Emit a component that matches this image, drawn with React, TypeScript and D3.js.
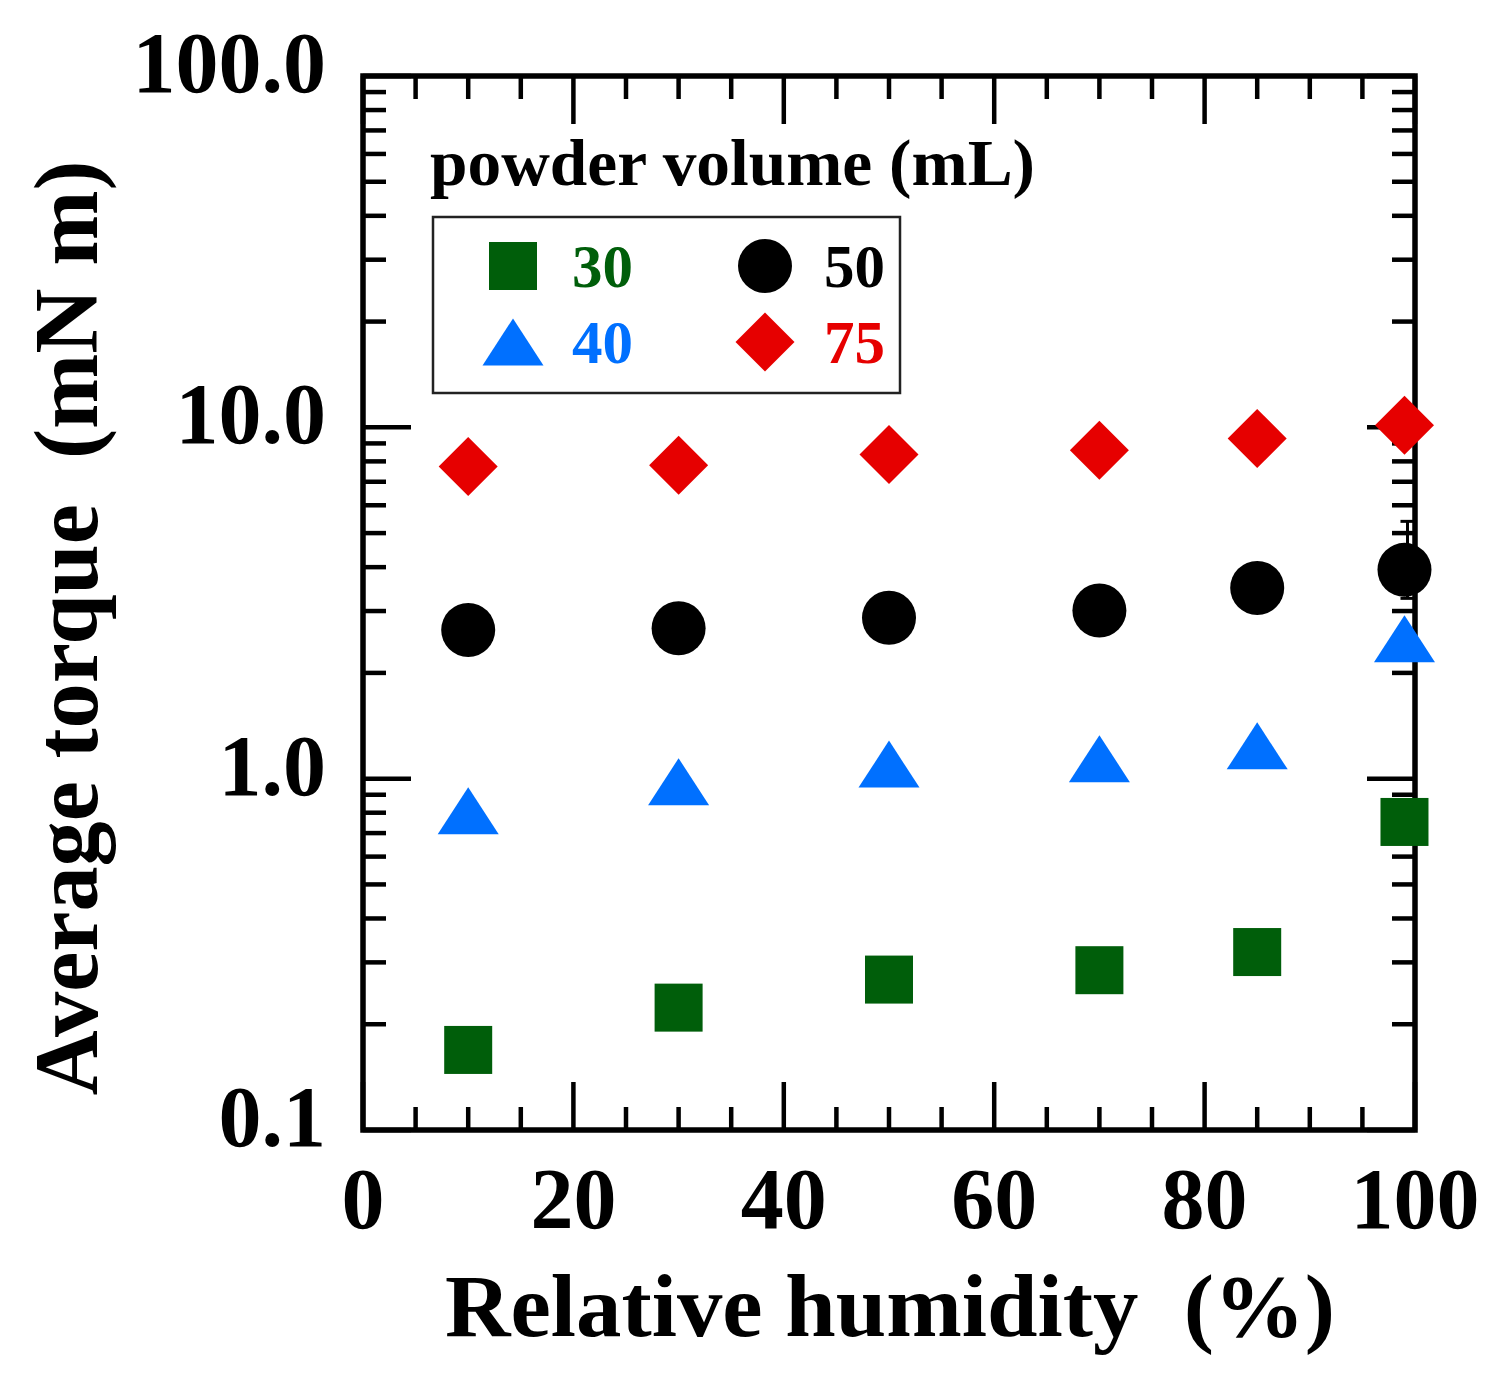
import React from "react";
import * as d3 from "d3";

const humidity = [10, 30, 50, 70, 85, 99];
const torque30 = [0.169, 0.223, 0.268, 0.285, 0.321, 0.753];
const torque40 = [0.81, 0.98, 1.1, 1.14, 1.24, 2.5];
const torque50 = [2.65, 2.68, 2.87, 3.01, 3.49, 3.93];
const torque75 = [7.74, 7.8, 8.37, 8.6, 9.29, 10.13];
// error bars [low, high] for the 50 mL series (null = none)
const err50: ([number, number] | null)[] = [null, null, null, null, null, [3.26, 5.4]];

const xTickLabels = ["0", "20", "40", "60", "80", "100"];
const yTickLabels = ["0.1", "1.0", "10.0", "100.0"];
const legendTitle = "powder volume (mL)";
const seriesNames = ["30", "40", "50", "75"];

const W = 1511;
const H = 1391;
const L = 363, R = 1415, T = 76, B = 1130;
const FONT = "'Liberation Serif', 'Times New Roman', serif";

const GREEN = "#005E0A";
const BLUE = "#0070FF";
const RED = "#E60000";
const BLACK = "#000000";

type Shape = "square" | "triangle" | "circle" | "diamond";

function Marker({ shape, cx, cy, color }: { shape: Shape; cx: number; cy: number; color: string }) {
  if (shape === "square") {
    const s = 48;
    return <rect x={cx - s / 2} y={cy - s / 2} width={s} height={s} fill={color} />;
  }
  if (shape === "circle") {
    return <circle cx={cx} cy={cy} r={27} fill={color} />;
  }
  if (shape === "triangle") {
    const w = 61, h = 47;
    return (
      <polygon
        points={`${cx},${cy - h / 2} ${cx + w / 2},${cy + h / 2} ${cx - w / 2},${cy + h / 2}`}
        fill={color}
      />
    );
  }
  const d = 29.5;
  return (
    <polygon points={`${cx},${cy - d} ${cx + d},${cy} ${cx},${cy + d} ${cx - d},${cy}`} fill={color} />
  );
}

export default function App() {
  const x = d3.scaleLinear().domain([0, 100]).range([L, R]);
  const y = d3.scaleLog().domain([0.1, 100]).range([B, T]);

  const xMajor = d3.range(0, 101, 20);
  const xMinor = d3.range(0, 101, 5).filter((v) => v % 20 !== 0);
  const yAll = y.ticks();
  const isMajor = (v: number) => Math.abs(Math.log10(v) - Math.round(Math.log10(v))) < 1e-6;
  const yMajor = yAll.filter(isMajor);
  const yMinor = yAll.filter((v) => !isMajor(v));

  const majLen = 48;
  const minLen = 23;
  const tickW = 4.5;

  const series: { vals: number[]; shape: Shape; color: string }[] = [
    { vals: torque30, shape: "square", color: GREEN },
    { vals: torque40, shape: "triangle", color: BLUE },
    { vals: torque50, shape: "circle", color: BLACK },
    { vals: torque75, shape: "diamond", color: RED },
  ];

  const legendItems: { shape: Shape; color: string; label: string; lx: number; ly: number }[] = [
    { shape: "square", color: GREEN, label: seriesNames[0], lx: 513, ly: 266 },
    { shape: "triangle", color: BLUE, label: seriesNames[1], lx: 513, ly: 342 },
    { shape: "circle", color: BLACK, label: seriesNames[2], lx: 765, ly: 266 },
    { shape: "diamond", color: RED, label: seriesNames[3], lx: 765, ly: 342 },
  ];

  return (
    <svg
      width={W}
      height={H}
      viewBox={`0 0 ${W} ${H}`}
      style={{ position: "absolute", left: 0, top: 0, background: "#fff" }}
      fontFamily={FONT}
    >
      <rect x={0} y={0} width={W} height={H} fill="#fff" />

      {/* ticks */}
      <g stroke="#000" strokeWidth={tickW}>
        {xMajor.map((v) => (
          <g key={"xM" + v}>
            <line x1={x(v)} x2={x(v)} y1={B} y2={B - majLen} />
            <line x1={x(v)} x2={x(v)} y1={T} y2={T + majLen} />
          </g>
        ))}
        {xMinor.map((v) => (
          <g key={"xm" + v}>
            <line x1={x(v)} x2={x(v)} y1={B} y2={B - minLen} />
            <line x1={x(v)} x2={x(v)} y1={T} y2={T + minLen} />
          </g>
        ))}
        {yMajor.map((v) => (
          <g key={"yM" + v}>
            <line x1={L} x2={L + majLen} y1={y(v)} y2={y(v)} />
            <line x1={R} x2={R - majLen} y1={y(v)} y2={y(v)} />
          </g>
        ))}
        {yMinor.map((v) => (
          <g key={"ym" + v}>
            <line x1={L} x2={L + minLen} y1={y(v)} y2={y(v)} />
            <line x1={R} x2={R - minLen} y1={y(v)} y2={y(v)} />
          </g>
        ))}
      </g>

      {/* frame */}
      <rect x={L} y={T} width={R - L} height={B - T} fill="none" stroke="#000" strokeWidth={5.5} />

      {/* tick labels */}
      <g fontWeight="bold" fontSize={86} fill="#000">
        {xMajor.map((v, i) => (
          <text key={"xl" + v} x={x(v)} y={1228} textAnchor="middle">
            {xTickLabels[i]}
          </text>
        ))}
        {yMajor.map((v, i) => (
          <text key={"yl" + v} x={326} y={y(v) + 16} textAnchor="end">
            {yTickLabels[i]}
          </text>
        ))}
      </g>

      {/* axis titles */}
      <text
        x={890}
        y={1336}
        textAnchor="middle"
        fontWeight="bold"
        fontSize={88}
        textLength={890}
        lengthAdjust="spacingAndGlyphs"
        xmlSpace="preserve"
      >
        {"Relative humidity  (%)"}
      </text>
      <text
        transform={`translate(97, 628) rotate(-90)`}
        textAnchor="middle"
        fontWeight="bold"
        fontSize={90}
        textLength={935}
        lengthAdjust="spacingAndGlyphs"
        xmlSpace="preserve"
      >
        {"Average torque  (mN m)"}
      </text>

      {/* legend */}
      <text
        x={430}
        y={185}
        fontWeight="bold"
        fontSize={66}
        textLength={605}
        lengthAdjust="spacingAndGlyphs"
      >
        {legendTitle}
      </text>
      <rect x={433} y={217} width={467} height={176} fill="#fff" stroke="#222" strokeWidth={2.5} />
      {legendItems.map((it) => (
        <g key={"lg" + it.label}>
          <Marker shape={it.shape} cx={it.lx} cy={it.ly} color={it.color} />
          <text
            x={it.lx + 59}
            y={it.ly + 21}
            fontWeight="bold"
            fontSize={61}
            fill={it.color}
          >
            {it.label}
          </text>
        </g>
      ))}

      {/* error bars */}
      <g stroke="#000" strokeWidth={3}>
        {err50.map((e, i) =>
          e ? (
            <g key={"eb" + i}>
              <line x1={x(humidity[i]) + 3} x2={x(humidity[i]) + 3} y1={y(e[0])} y2={y(e[1])} />
              <line x1={x(humidity[i]) - 4} x2={x(humidity[i]) + 10} y1={y(e[0])} y2={y(e[0])} />
              <line x1={x(humidity[i]) - 4} x2={x(humidity[i]) + 10} y1={y(e[1])} y2={y(e[1])} />
            </g>
          ) : null
        )}
      </g>

      {/* data */}
      {series.map((s) =>
        s.vals.map((v, i) => (
          <Marker key={s.shape + i} shape={s.shape} cx={x(humidity[i])} cy={y(v)} color={s.color} />
        ))
      )}
    </svg>
  );
}
